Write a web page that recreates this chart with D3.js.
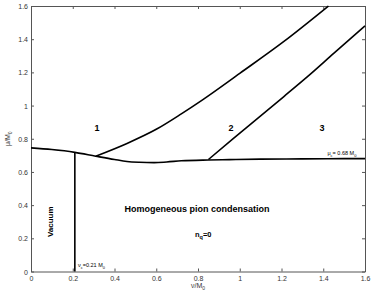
<!DOCTYPE html>
<html>
<head>
<meta charset="utf-8">
<script src="https://cdn.jsdelivr.net/npm/d3@7"></script>
<style>
  body { margin: 0; background: #fff; }
  svg { font-family: "Liberation Sans", Arial, sans-serif; }
  .tick text { font-size: 7px; fill: #333; }
  .domain, .tick line { stroke: #555; }
</style>
</head>
<body>
<svg width="374" height="297"></svg>
<script>
const svg = d3.select("svg");

// tick values
const xTicks = [0, 0.2, 0.4, 0.6, 0.8, 1, 1.2, 1.4, 1.6];
const yTicks = [0, 0.2, 0.4, 0.6, 0.8, 1, 1.2, 1.4, 1.6];

// lower boundary (vacuum / condensation / phases)
const lowerX = [0, 0.1, 0.21, 0.31, 0.4, 0.46, 0.52, 0.59, 0.65, 0.72, 0.85, 0.95, 1.1, 1.3, 1.5, 1.6];
const lowerY = [0.745, 0.735, 0.718, 0.695, 0.675, 0.663, 0.658, 0.656, 0.66, 0.667, 0.672, 0.674, 0.677, 0.679, 0.68, 0.68];

// boundary between region 1 and 2
const b12X = [0.31, 0.46, 0.6, 0.72, 0.82, 1.0, 1.21, 1.425];
const b12Y = [0.695, 0.772, 0.857, 0.95, 1.033, 1.194, 1.385, 1.6];

// boundary between region 2 and 3
const b23X = [0.85, 0.97, 1.09, 1.21, 1.33, 1.45, 1.6];
const b23Y = [0.675, 0.802, 0.927, 1.053, 1.18, 1.314, 1.48];

// vacuum boundary
const vacX = [0.21, 0.21];
const vacY = [0.718, 0];

const margin = { top: 6, right: 9, bottom: 25.5, left: 31 };
const width = 374, height = 297;
const innerWidth = width - margin.left - margin.right;
const innerHeight = height - margin.top - margin.bottom;

const xScale = d3.scaleLinear().domain([0, 1.6]).range([0, innerWidth]);
const yScale = d3.scaleLinear().domain([0, 1.6]).range([innerHeight, 0]);

const g = svg.append("g").attr("transform", `translate(${margin.left},${margin.top})`);

const fmt = d3.format("~g");

g.append("g")
  .attr("transform", `translate(0,${innerHeight})`)
  .call(d3.axisBottom(xScale).tickValues(xTicks).tickFormat(fmt).tickSizeInner(-3).tickSizeOuter(0))
  .call((a) => a.selectAll("text").attr("dy", null).attr("y", 9));
g.append("g")
  .call(d3.axisLeft(yScale).tickValues(yTicks).tickFormat(fmt).tickSizeInner(-3).tickSizeOuter(0))
  .call((a) => a.selectAll("text").attr("dy", null).attr("x", -3).attr("y", 2.5));
// top and right frame with inward ticks, no labels
g.append("g")
  .call(d3.axisTop(xScale).tickValues(xTicks).tickSizeInner(-3).tickSizeOuter(0))
  .call((a) => a.selectAll("text").remove());
g.append("g")
  .attr("transform", `translate(${innerWidth},0)`)
  .call(d3.axisRight(yScale).tickValues(yTicks).tickSizeInner(-3).tickSizeOuter(0))
  .call((a) => a.selectAll("text").remove());

const line = d3.line().curve(d3.curveMonotoneX).x((d) => xScale(d[0])).y((d) => yScale(d[1]));
const curves = [
  d3.zip(lowerX, lowerY),
  d3.zip(b12X, b12Y),
  d3.zip(b23X, b23Y),
];
g.selectAll("path.curve")
  .data(curves)
  .enter()
  .append("path")
  .attr("class", "curve")
  .attr("d", line)
  .attr("fill", "none")
  .attr("stroke", "#000")
  .attr("stroke-width", 1.6);

g.append("path")
  .attr("d", d3.line().x((d) => xScale(d[0])).y((d) => yScale(d[1]))(d3.zip(vacX, vacY)))
  .attr("fill", "none")
  .attr("stroke", "#000")
  .attr("stroke-width", 1.6);

// region labels
const labels = [
  { t: "1", x: 0.316, y: 0.845 },
  { t: "2", x: 0.958, y: 0.845 },
  { t: "3", x: 1.394, y: 0.845 },
];
g.selectAll("text.region")
  .data(labels)
  .enter()
  .append("text")
  .attr("class", "region")
  .attr("x", (d) => xScale(d.x))
  .attr("y", (d) => yScale(d.y))
  .attr("text-anchor", "middle")
  .attr("font-size", 9)
  .attr("font-weight", "bold")
  .text((d) => d.t);

g.append("text")
  .attr("transform", `translate(${xScale(0.107)},${yScale(0.3)}) rotate(-90)`)
  .attr("text-anchor", "middle")
  .attr("font-size", 8)
  .attr("font-weight", "bold")
  .text("Vacuum");

g.append("text")
  .attr("x", xScale(0.795))
  .attr("y", yScale(0.36))
  .attr("text-anchor", "middle")
  .attr("font-size", 9)
  .attr("font-weight", "bold")
  .text("Homogeneous pion condensation");

const nq = g.append("text")
  .attr("x", xScale(0.825))
  .attr("y", yScale(0.205))
  .attr("text-anchor", "middle")
  .attr("font-size", 7.5)
  .attr("font-weight", "bold");
nq.append("tspan").text("n");
nq.append("tspan").attr("font-size", 5.5).attr("dy", 2).text("q");
nq.append("tspan").attr("dy", -2).text("=0");

const vc = g.append("text")
  .attr("x", xScale(0.225))
  .attr("y", yScale(0.025))
  .attr("font-size", 5.5);
vc.append("tspan").text("ν");
vc.append("tspan").attr("font-size", 4).attr("dy", 1.5).text("c");
vc.append("tspan").attr("dy", -1.5).text("=0.21 M");
vc.append("tspan").attr("font-size", 4).attr("dy", 1.5).text("0");

const mc = g.append("text")
  .attr("x", xScale(1.42))
  .attr("y", yScale(0.7))
  .attr("font-size", 5.5);
mc.append("tspan").text("μ");
mc.append("tspan").attr("font-size", 4).attr("dy", 1.5).text("c");
mc.append("tspan").attr("dy", -1.5).text("= 0.68 M");
mc.append("tspan").attr("font-size", 4).attr("dy", 1.5).text("0");

// axis labels
const xl = svg.append("text")
  .attr("x", margin.left + xScale(0.8))
  .attr("y", 288)
  .attr("text-anchor", "middle")
  .attr("font-size", 7)
  .attr("fill", "#333");
xl.append("tspan").text("ν/M");
xl.append("tspan").attr("font-size", 5).attr("dy", 2).text("0");

const yl = svg.append("text")
  .attr("transform", `translate(10,${margin.top + yScale(0.8)}) rotate(-90)`)
  .attr("text-anchor", "middle")
  .attr("font-size", 7)
  .attr("fill", "#333");
yl.append("tspan").text("μ/M");
yl.append("tspan").attr("font-size", 5).attr("dy", 2).text("0");
</script>
</body>
</html>
